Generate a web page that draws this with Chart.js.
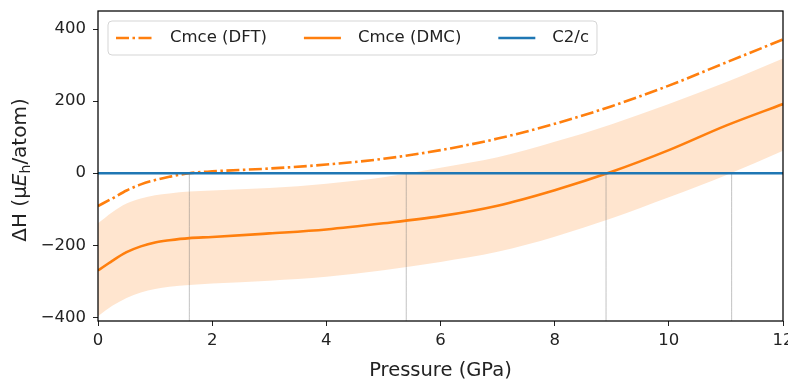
<!DOCTYPE html>
<html lang="en">
<head>
<meta charset="UTF-8">
<title>Enthalpy difference vs pressure</title>
<script src="https://cdn.jsdelivr.net/npm/chart.js"></script>
<style>
  body {
    margin: 0;
    background: #fff;
  }
  .wrap {
    width: 788px;
    height: 381px;
  }
</style>
</head>
<body>

<div class="wrap">
  <canvas id="enthalpy-chart" width="788" height="381"></canvas>
</div>

<script>
  // pressure grid (GPa) shared by all curves
  const pressure = [0, 0.25, 0.5, 0.75, 1, 1.25, 1.6, 2, 3, 4, 5, 6, 7, 8, 9, 10, 11, 12];

  // enthalpy relative to C2/c (micro-Hartree per atom)
  const cmceDft = [-91, -70, -48, -31, -19, -10, 0, 5, 13, 24, 40, 64, 96, 137, 186, 243, 307, 371];
  const cmceDmc = [-270, -243, -219, -203, -192, -186, -180, -177, -167, -156, -139, -119, -90, -47, 4, 64, 132, 192];
  const dmcUpper = [-139, -108, -84, -70, -61, -56, -51, -48, -41, -29, -11, 15, 44, 87, 136, 192, 252, 318];
  const dmcLower = [-397, -368, -346, -331, -321, -315, -310, -306, -298, -287, -269, -246, -218, -176, -125, -67, -6, 62];
  const c2c = [0, 0, 0, 0, 0, 0, 0, 0, 0, 0, 0, 0, 0, 0, 0, 0, 0, 0];

  // pressures where the curves / band edges cross zero
  const crossings = [1.6, 5.4, 8.9, 11.1];

  const xTicks = [0, 2, 4, 6, 8, 10, 12];
  const yTicks = [-400, -200, 0, 200, 400];
  const yMin = -410;
  const yMax = 450;

  const ORANGE = '#ff7f0e';
  const BLUE = '#1f77b4';
  const FONT = '"DejaVu Sans", sans-serif';

  function pts(ys) {
    return pressure.map((p, i) => ({ x: p, y: ys[i] }));
  }

  const datasets = [
    {
      label: 'C2/c',
      data: pts(c2c),
      borderColor: BLUE,
      borderWidth: 2.6,
      order: 0
    },
    {
      label: 'Cmce (DMC)',
      data: pts(cmceDmc),
      borderColor: ORANGE,
      borderWidth: 2.6,
      order: 1
    },
    {
      label: 'Cmce (DFT)',
      data: pts(cmceDft),
      borderColor: ORANGE,
      borderWidth: 2.6,
      borderDash: [13, 3.5, 2.5, 3.5],
      order: 2
    },
    {
      label: 'band upper',
      data: pts(dmcUpper),
      borderWidth: 0,
      backgroundColor: 'rgba(255, 127, 14, 0.2)',
      fill: '+1',
      order: 5
    },
    {
      label: 'band lower',
      data: pts(dmcLower),
      borderWidth: 0,
      fill: false,
      order: 6
    }
  ];

  crossings.forEach(p => {
    datasets.push({
      label: 'marker',
      data: [{ x: p, y: yMin }, { x: p, y: 0 }],
      borderColor: 'rgba(120, 120, 120, 0.45)',
      borderWidth: 1,
      order: 4
    });
  });

  // legend inside the plot, drawn like matplotlib's
  const legendOrder = ['Cmce (DFT)', 'Cmce (DMC)', 'C2/c'];

  const framePlugin = {
    id: 'frame',
    afterDatasetsDraw(chart) {
      const { ctx, chartArea: a } = chart;
      ctx.save();
      ctx.strokeStyle = '#000';
      ctx.lineWidth = 1.25;
      ctx.strokeRect(a.left, a.top, a.right - a.left, a.bottom - a.top);
      ctx.restore();
    },
    afterDraw(chart) {
      const { ctx, chartArea: a } = chart;
      ctx.save();

      // legend
      ctx.font = '16.5px ' + FONT;
      const items = legendOrder.map(l => chart.data.datasets.find(d => d.label === l));
      const handle = 37, textGap = 17, colGap = 37;
      let x = a.left + 18;
      const cy = a.top + 27;
      const layout = items.map(d => {
        const w = ctx.measureText(d.label).width;
        const item = { d, x, w };
        x += handle + textGap + w + colGap;
        return item;
      });
      const last = layout[layout.length - 1];
      const bx = a.left + 10, by = a.top + 10;
      const bw = last.x + handle + textGap + last.w + 8 - bx, bh = 34;
      ctx.beginPath();
      ctx.roundRect(bx, by, bw, bh, 4);
      ctx.fillStyle = 'rgba(255,255,255,0.8)';
      ctx.fill();
      ctx.strokeStyle = '#d5d5d5';
      ctx.lineWidth = 1;
      ctx.stroke();

      layout.forEach(it => {
        ctx.beginPath();
        ctx.setLineDash(it.d.borderDash || []);
        ctx.strokeStyle = it.d.borderColor;
        ctx.lineWidth = it.d.borderWidth;
        ctx.moveTo(it.x, cy);
        ctx.lineTo(it.x + handle, cy);
        ctx.stroke();
        ctx.setLineDash([]);
        ctx.fillStyle = '#222';
        ctx.textBaseline = 'middle';
        ctx.textAlign = 'left';
        ctx.fillText(it.d.label, it.x + handle + textGap, cy);
      });

      // x axis title
      ctx.fillStyle = '#222';
      ctx.font = '19.5px ' + FONT;
      ctx.textAlign = 'center';
      ctx.textBaseline = 'alphabetic';
      ctx.fillText('Pressure (GPa)', (a.left + a.right) / 2, 376);

      // y axis title with italic E and subscript h
      const parts = [
        { t: 'ΔH (µ', f: '20px ' + FONT, dy: 0 },
        { t: 'E', f: 'italic 20px ' + FONT, dy: 0 },
        { t: 'h', f: '14px ' + FONT, dy: 4 },
        { t: '/atom)', f: '20px ' + FONT, dy: 0 }
      ];
      let total = 0;
      parts.forEach(p => { ctx.font = p.f; p.w = ctx.measureText(p.t).width; total += p.w; });
      ctx.translate(26, (a.top + a.bottom) / 2 + 4);
      ctx.rotate(-Math.PI / 2);
      ctx.textAlign = 'left';
      let tx = -total / 2;
      parts.forEach(p => {
        ctx.font = p.f;
        ctx.fillText(p.t, tx, p.dy);
        tx += p.w;
      });
      ctx.restore();
    }
  };

  function minusSign(v) {
    return String(v).replace('-', '\u2212');
  }

  new Chart(document.getElementById('enthalpy-chart'), {
    type: 'line',
    data: { datasets },
    options: {
      responsive: false,
      animation: false,
      layout: { padding: { top: 11, right: 5, left: 0, bottom: 0 } },
      elements: {
        point: { radius: 0, hoverRadius: 0 },
        line: { cubicInterpolationMode: 'monotone', fill: false, borderCapStyle: 'butt' }
      },
      plugins: {
        legend: { display: false },
        tooltip: { enabled: false },
        filler: { propagate: false }
      },
      scales: {
        x: {
          type: 'linear',
          min: 0,
          max: 12,
          afterBuildTicks: s => { s.ticks = xTicks.map(v => ({ value: v })); },
          afterFit: s => { s.height = 60; s.paddingLeft = 0; s.paddingRight = 0; },
          border: { display: false },
          grid: { drawOnChartArea: false, color: '#222', tickLength: 5, tickWidth: 1 },
          ticks: {
            color: '#222',
            padding: 5,
            maxRotation: 0,
            font: { family: FONT, size: 16.5 },
            callback: v => minusSign(v)
          }
        },
        y: {
          type: 'linear',
          min: yMin,
          max: yMax,
          afterBuildTicks: s => { s.ticks = yTicks.map(v => ({ value: v })); },
          afterFit: s => { s.width = 98; s.paddingTop = 0; s.paddingBottom = 0; },
          border: { display: false },
          grid: { drawOnChartArea: false, color: '#222', tickLength: 5, tickWidth: 1 },
          ticks: {
            color: '#222',
            padding: 7,
            font: { family: FONT, size: 16.5 },
            callback: v => minusSign(v)
          }
        }
      }
    },
    plugins: [framePlugin]
  });
</script>

</body>
</html>
